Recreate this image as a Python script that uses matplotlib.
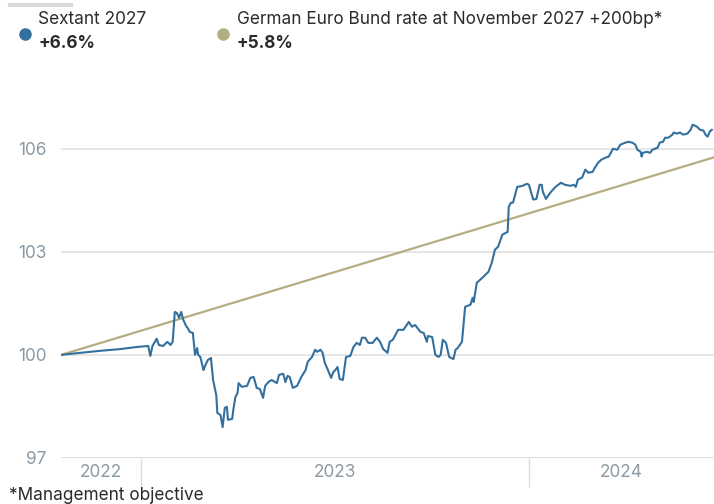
import matplotlib
matplotlib.use("Agg")
import matplotlib.pyplot as plt
import pandas as pd

plt.rcParams['font.family'] = ['Inter', 'DejaVu Sans']

start_date = "2022-10-18"
end_date = "2024-06-23"

# Sextant 2027 NAV (rebased 100), day offsets from start_date
sextant_days = [0, 18, 37, 56, 71, 82, 84, 86, 90, 92, 96, 100, 103, 105, 107, 109, 111, 113, 115, 118,
                119, 121, 124, 126, 128, 129, 131, 134, 135, 138, 141, 143, 146, 147, 150, 152, 154, 156,
                157, 161, 162, 164, 166, 167, 170, 175, 178, 181, 182, 184, 187, 190, 192, 195, 198, 203,
                205, 209, 211, 213, 215, 218, 222, 226, 230, 232, 236, 239, 241, 244, 246, 248, 251, 254,
                256, 258, 260, 262, 265, 268, 272, 275, 278, 281, 283, 286, 289, 293, 297, 300, 303, 307,
                309, 312, 317, 322, 324, 327, 330, 333, 335, 338, 341, 344, 345, 349, 352, 355, 357, 359,
                362, 365, 369, 371, 373, 377, 380, 385, 387, 388, 391, 396, 399, 402, 405, 408, 411, 415,
                418, 420, 421, 423, 425, 429, 434, 438, 440, 444, 447, 450, 452, 453, 456, 460, 465, 470,
                474, 479, 482, 484, 486, 490, 493, 496, 500, 502, 505, 508, 512, 515, 517, 519, 523, 526,
                531, 533, 537, 540, 542, 545, 546, 547, 551, 554, 556, 561, 563, 566, 568, 571, 575, 576,
                579, 582, 585, 589, 592, 594, 598, 601, 604, 606, 608, 610, 612]
sextant_vals = [100.00, 100.06, 100.12, 100.17, 100.23, 100.26, 99.97, 100.26, 100.47, 100.29, 100.26,
                100.38, 100.29, 100.38, 101.25, 101.22, 101.08, 101.25, 101.02, 100.82, 100.79, 100.67,
                100.64, 100.00, 100.20, 100.00, 99.94, 99.56, 99.65, 99.85, 99.91, 99.27, 98.83, 98.31,
                98.25, 97.90, 98.46, 98.49, 98.11, 98.14, 98.40, 98.78, 98.89, 99.18, 99.07, 99.10, 99.33,
                99.36, 99.27, 99.04, 99.01, 98.75, 99.10, 99.21, 99.27, 99.18, 99.42, 99.45, 99.21, 99.39,
                99.36, 99.04, 99.10, 99.36, 99.56, 99.80, 99.94, 100.15, 100.09, 100.15, 100.06, 99.77,
                99.56, 99.33, 99.50, 99.56, 99.65, 99.30, 99.27, 99.94, 99.97, 100.23, 100.35, 100.29,
                100.50, 100.50, 100.35, 100.35, 100.50, 100.38, 100.17, 100.06, 100.38, 100.44, 100.73,
                100.73, 100.82, 100.96, 100.82, 100.87, 100.79, 100.67, 100.64, 100.38, 100.55, 100.52,
                100.00, 99.94, 100.00, 100.44, 100.35, 99.94, 99.88, 100.15, 100.20, 100.38, 101.40,
                101.46, 101.66, 101.54, 102.10, 102.24, 102.33, 102.42, 102.68, 103.06, 103.15, 103.50,
                103.55, 103.58, 104.31, 104.43, 104.43, 104.89, 104.92, 104.98, 104.95, 104.52, 104.54,
                104.95, 104.95, 104.75, 104.54, 104.72, 104.89, 105.01, 104.95, 104.92, 104.95, 104.89,
                105.10, 105.16, 105.39, 105.30, 105.33, 105.45, 105.59, 105.68, 105.74, 105.77, 105.88,
                106.00, 105.97, 106.12, 106.18, 106.20, 106.18, 106.12, 105.97, 105.91, 105.77, 105.88,
                105.91, 105.88, 105.97, 106.03, 106.18, 106.20, 106.32, 106.32, 106.41, 106.47, 106.44,
                106.47, 106.41, 106.44, 106.55, 106.70, 106.64, 106.55, 106.53, 106.41, 106.35, 106.50,
                106.55]

# German Euro Bund rate at November 2027 +200bp (straight accrual)
bund_days = [0, 614]
bund_vals = [100.0, 105.75]

legend_names = ["Sextant 2027", "German Euro Bund rate at November 2027 +200bp*"]
legend_perf = ["+6.6%", "+5.8%"]
year_labels = ["2022", "2023", "2024"]
y_ticks = [97, 100, 103, 106]
footnote = "*Management objective"

BLUE = "#33709e"
KHAKI = "#b5ad82"
GRID = "#e2e2e2"
TICK = "#8a99a3"
TXT = "#2b2b2b"
FS = 12.4

t0 = pd.Timestamp(start_date)
t_end = pd.Timestamp(end_date)
sx = [t0 + pd.Timedelta(days=d) for d in sextant_days]
bx = [t0 + pd.Timedelta(days=d) for d in bund_days]

fig = plt.figure(figsize=(7.14, 5.04), dpi=100)
ax = fig.add_axes([61/714, 46/504, 653/714, 378/504])

ax.set_ylim(97, 108)
ax.set_xlim(t0, t_end)

for yv in y_ticks:
    ax.axhline(yv, color=GRID if yv != 97 else "#d8d8d8", lw=1.2, zorder=0)

ax.plot(bx, bund_vals, color=KHAKI, lw=1.6, zorder=2, solid_capstyle='round')
ax.plot(sx, sextant_vals, color=BLUE, lw=1.5, zorder=3, solid_joinstyle='round')

for s in ax.spines.values():
    s.set_visible(False)

ax.set_yticks(y_ticks)
ax.set_yticklabels([str(v) for v in y_ticks])
ax.tick_params(axis='y', length=0, pad=10.5, labelsize=FS, labelcolor=TICK)

# year separators and centred year labels
b1 = pd.Timestamp("2023-01-01")
b2 = pd.Timestamp("2024-01-01")
ax.set_xticks([b1, b2])
ax.set_xticklabels(["", ""])
ax.tick_params(axis='x', which='major', length=21, width=1.0, color="#dcdcdc")
mids = [t0 + (b1 - t0) / 2, b1 + (b2 - b1) / 2, b2 + (t_end - b2) / 2]
ax.set_xticks(mids, minor=True)
ax.set_xticklabels(year_labels, minor=True)
ax.tick_params(axis='x', which='minor', length=0, pad=4, labelsize=FS, labelcolor=TICK)

# legend header
fig.add_artist(plt.Line2D([10/714, 71/714], [1 - 4.5/504, 1 - 4.5/504], color="#d9d9d9", lw=3,
                          transform=fig.transFigure))
dot_x = [25, 223]
txt_x = [38, 237]
for i in range(2):
    col = BLUE if i == 0 else KHAKI
    fig.add_artist(plt.Line2D([dot_x[i]/714], [1 - 34/504], marker='o', ms=8, color=col,
                              lw=0, transform=fig.transFigure))
    fig.text(txt_x[i]/714, 1 - 20/504, legend_names[i], fontsize=FS, color=TXT,
             va='center', ha='left')
    fig.text(txt_x[i]/714, 1 - 44/504, legend_perf[i], fontsize=FS, color=TXT,
             va='center', ha='left', fontweight='bold')

fig.text(9/714, 1 - 495/504, footnote, fontsize=FS, color=TXT, va='center', ha='left')

fig.savefig("out.png", dpi=100)
